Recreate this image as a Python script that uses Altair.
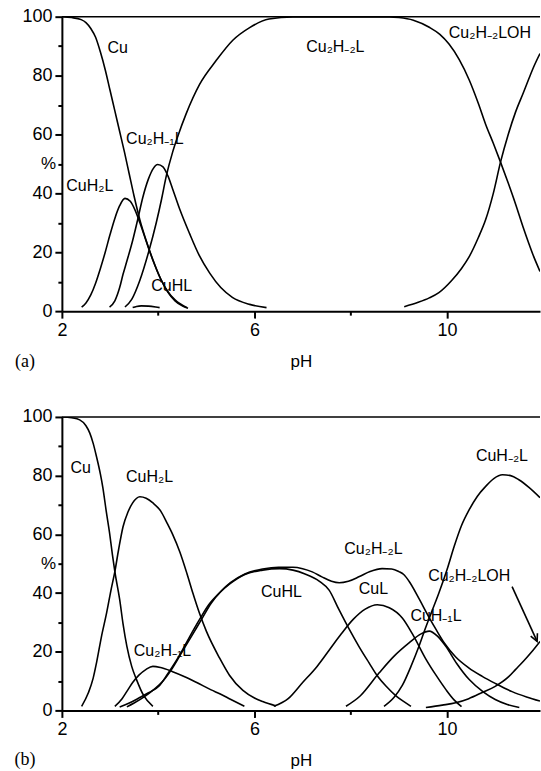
import altair as alt
import pandas as pd

# ---------------- Panel (a) data ----------------
a_cu_ph = [2.0, 2.2, 2.4, 2.5, 2.6, 2.7, 2.8, 2.9, 3.0, 3.1, 3.2, 3.3, 3.4, 3.5, 3.62, 3.75, 3.9, 4.05, 4.2, 4.35, 4.5, 4.62]
a_cu_pct = [100, 99.7, 99, 98, 96, 93, 88, 82, 75, 68, 61, 54, 46.5, 39, 31, 24, 17, 11, 6.5, 3.5, 1.8, 1.0]

a_cuh2l_ph = [2.41, 2.5, 2.6, 2.7, 2.8, 2.9, 3.0, 3.1, 3.2, 3.31, 3.42, 3.52, 3.62, 3.75, 3.89, 4.05, 4.18, 4.35, 4.6]
a_cuh2l_pct = [1.4, 2.8, 5.5, 9.5, 14.5, 20, 26, 31.5, 35.8, 38.3, 37.3, 34.3, 30, 23.8, 17.3, 11, 7.1, 3.8, 1.2]

a_cu2h1l_ph = [2.99, 3.1, 3.2, 3.27, 3.35, 3.47, 3.58, 3.68, 3.8, 3.9, 3.99, 4.1, 4.2, 4.3, 4.45, 4.65, 4.85, 5.07, 5.3, 5.54, 5.9, 6.25]
a_cu2h1l_pct = [1.4, 3.5, 8, 12.5, 17, 24, 31.5, 38.6, 45, 48.5, 49.8, 49, 46, 41.5, 34.5, 26.4, 19, 12.9, 8, 4.7, 2.3, 1.2]

a_cuhl_ph = [3.47, 3.55, 3.65, 3.8, 3.95, 4.03]
a_cuhl_pct = [1.2, 1.6, 1.8, 1.7, 1.4, 1.2]

a_cu2h2l_ph = [3.31, 3.45, 3.62, 3.8, 3.96, 4.07, 4.17, 4.3, 4.41, 4.58, 4.86, 5.2, 5.55, 5.9, 6.3, 6.8, 8.8, 9.0, 9.3, 9.63, 9.85, 10.04, 10.25, 10.46, 10.65, 10.8, 10.96, 11.11, 11.27, 11.42, 11.58, 11.7, 11.8, 11.93]
a_cu2h2l_pct = [1.4, 4, 10.5, 20, 30, 38, 46, 54, 59.5, 67, 77, 85, 92, 96.3, 99.2, 99.9, 99.9, 99.7, 98.8, 96.4, 94, 90.7, 85.5, 78.5, 70.5, 63.5, 57, 50.6, 43.5, 36.5, 28.5, 22.9, 18.5, 13.5]

a_cu2h2loh_ph = [9.11, 9.4, 9.63, 9.83, 10.1, 10.3, 10.46, 10.65, 10.8, 10.96, 11.11, 11.27, 11.42, 11.58, 11.7, 11.8, 11.93]
a_cu2h2loh_pct = [1.5, 3.0, 4.5, 6.3, 10.5, 14.5, 18.5, 25, 31, 40, 50.6, 60, 67.5, 74, 79, 83, 87.5]

a_labels = ["Cu", "Cu\u2082H\u208b\u2081L", "CuH\u2082L", "CuHL", "Cu\u2082H\u208b\u2082L", "Cu\u2082H\u208b\u2082LOH"]
a_label_ph = [3.16, 3.93, 2.58, 4.28, 7.68, 10.89]
a_label_pct = [89.5, 58.3, 42.4, 8.5, 89.8, 94.6]

# ---------------- Panel (b) data ----------------
b_cu_ph = [2.0, 2.2, 2.37, 2.5, 2.58, 2.65, 2.72, 2.8, 2.85, 2.92, 2.99, 3.05, 3.1, 3.2, 3.27, 3.35, 3.45, 3.55, 3.7, 3.89]
b_cu_pct = [100, 99.7, 99, 97, 94.5, 91, 86.4, 80.5, 76, 68, 60.5, 53, 47.3, 37.8, 29.5, 21.8, 15, 10.5, 5, 1.4]

b_cuh2l_ph = [2.41, 2.55, 2.65, 2.72, 2.82, 2.93, 3.02, 3.1, 3.18, 3.27, 3.37, 3.47, 3.62, 3.75, 3.89, 4.05, 4.18, 4.3, 4.45, 4.6, 4.72, 4.86, 5.0, 5.27, 5.48, 5.76, 6.0, 6.17, 6.45]
b_cuh2l_pct = [1.4, 6, 11, 16.3, 25, 33.3, 41, 47.3, 55, 62.6, 67.5, 70.7, 72.8, 72.3, 70.7, 68, 64, 60, 54, 46.5, 40, 33, 27, 18, 12, 6.8, 4.2, 3, 1.5]

b_cu2h1l_ph = [3.1, 3.25, 3.35, 3.47, 3.6, 3.75, 3.89, 4.05, 4.3, 4.55, 4.8, 5.1, 5.3, 5.5, 5.79]
b_cu2h1l_pct = [1.4, 4, 6.5, 9.5, 12, 14, 15, 14.6, 13.2, 11.5, 9.5, 7.0, 5.5, 3.8, 1.4]

b_cuhl_ph = [3.2, 3.4, 3.6, 3.8, 4.03, 4.2, 4.45, 4.65, 4.86, 5.05, 5.27, 5.48, 5.8, 6.17, 6.52, 6.8, 7.05, 7.35, 7.55, 7.75, 7.97, 8.18, 8.38, 8.55, 8.73, 8.95, 9.15, 9.25]
b_cuhl_pct = [1.2, 2.5, 4.2, 6, 8.5, 12.5, 19, 25, 31, 36, 40, 43, 46.3, 47.8, 48.3, 47.8, 46.5, 44, 41, 34.5, 27.6, 21.5, 16.2, 11.8, 8.3, 4.8, 2.5, 1.4]

b_cu2h2l_ph = [3.35, 3.5, 3.7, 3.9, 4.1, 4.3, 4.5, 4.7, 4.9, 5.1, 5.3, 5.5, 5.8, 6.17, 6.5, 6.8, 7.0, 7.2, 7.4, 7.6, 7.76, 7.95, 8.18, 8.4, 8.65, 8.85, 9.0, 9.1, 9.21, 9.42, 9.6, 9.77, 9.95, 10.18, 10.45, 10.73, 11.0, 11.35, 11.65, 11.93]
b_cu2h2l_pct = [1.2, 2.5, 4.5, 7, 10, 14.5, 20, 25.5, 31, 36.5, 40.5, 43.5, 46.5, 48.2, 48.8, 48.8, 48.3, 47.2, 45.5, 44, 43.5, 44, 45.6, 47.3, 48.3, 48.2, 47.3, 46.3, 44, 38, 32.5, 27.6, 22.8, 18.2, 14.5, 11.6, 9.2, 6.4, 4.6, 3.2]

b_cul_ph = [6.4, 6.7, 7.0, 7.3, 7.55, 7.8, 8.05, 8.3, 8.55, 8.8, 9.07, 9.3, 9.56, 9.77, 9.98, 10.15, 10.3]
b_cul_pct = [1.4, 4, 9.5, 15, 20.5, 26, 31, 34.5, 36, 35, 31.5, 25.5, 17.5, 12, 7, 3.5, 1.3]

b_cuh1l_ph = [7.9, 8.2, 8.59, 8.9, 9.21, 9.45, 9.63, 9.8, 9.97, 10.2, 10.46, 10.75, 11.0, 11.25, 11.5]
b_cuh1l_pct = [1.4, 5, 12.8, 18.5, 23, 26, 27, 25.3, 21.9, 16, 10.5, 6.3, 3.7, 2, 1]

b_cuh2ml_ph = [8.69, 8.9, 9.07, 9.25, 9.42, 9.55, 9.69, 9.83, 10.0, 10.15, 10.3, 10.46, 10.63, 10.8, 10.97, 11.15, 11.32, 11.49, 11.7, 11.93]
b_cuh2ml_pct = [1.4, 4.5, 8.5, 15, 22, 28, 34, 40, 48, 56, 63, 68.4, 73, 76.3, 79, 80.3, 80, 78.6, 76, 72.5]

b_cu2h2loh_ph = [9.56, 9.9, 10.18, 10.45, 10.73, 11.0, 11.28, 11.42, 11.6, 11.75, 11.93]
b_cu2h2loh_pct = [1.0, 1.8, 2.6, 4, 6.1, 8.2, 11.5, 13.9, 17, 19.8, 23.5]

b_labels = ["Cu", "CuH\u2082L", "CuH\u208b\u2082L", "Cu\u2082H\u208b\u2082L", "Cu\u2082H\u208b\u2082LOH", "CuHL", "CuL", "CuH\u208b\u2081L", "Cu\u2082H\u208b\u2081L"]
b_label_ph = [2.39, 3.82, 11.14, 8.47, 10.46, 6.56, 8.47, 9.77, 4.09]
b_label_pct = [82.7, 79.6, 86.7, 55.1, 45.9, 40.5, 41.5, 32.3, 20.4]

arrow_ph = [11.35, 11.87]
arrow_pct = [42.2, 23.5]

panel_tags = ["(a)", "(b)"]
tag_ph = [1.233, 1.233]
tag_pct = [-17.3, -17.0]

X_DOMAIN = [2, 11.93]
SANS = "Liberation Sans"


def series_df(series):
    rows = []
    for name, (ph, pct) in series.items():
        for i, (x, y) in enumerate(zip(ph, pct)):
            rows.append({"series": name, "ph": x, "pct": y, "order": i})
    return pd.DataFrame(rows)


def x_enc():
    return alt.X(
        "ph:Q",
        scale=alt.Scale(domain=X_DOMAIN, nice=False, zero=False),
        axis=alt.Axis(
            values=[2, 4, 6, 8, 10],
            labelExpr="datum.value % 4 == 2 ? datum.label : ''",
            tickSize=alt.condition("datum.value % 4 == 2", alt.value(7), alt.value(4)),
            tickWidth=2, tickColor="black",
            domainWidth=2, domainColor="black",
            labelFont=SANS, labelFontSize=18, labelColor="black", labelPadding=3,
            labelFlush=False, grid=False,
            title="pH", titleFont=SANS, titleFontSize=17, titleFontWeight="normal",
            titleColor="black", titleY=50, titleBaseline="middle",
        ),
    )


def y_enc(plot_h):
    return alt.Y(
        "pct:Q",
        scale=alt.Scale(domain=[0, 100], nice=False),
        axis=alt.Axis(
            values=[0, 10, 20, 30, 40, 50, 60, 70, 80, 90, 100],
            labelExpr="datum.value % 20 == 0 ? datum.label : ''",
            tickSize=alt.condition("datum.value % 20 == 0", alt.value(7), alt.value(4)),
            tickWidth=2, tickColor="black",
            domainWidth=2, domainColor="black",
            labelFont=SANS, labelFontSize=18, labelColor="black", labelPadding=3,
            labelFlush=False, grid=False,
            title="%", titleFont=SANS, titleFontSize=17, titleFontWeight="normal",
            titleColor="black", titleAngle=0, titleX=-14, titleY=plot_h / 2,
            titleAlign="center", titleBaseline="middle",
        ),
    )


def panel(series, labels, lph, lpct, tag_i, plot_h, arrow=False):
    xe = x_enc()
    ye = y_enc(plot_h)
    lines = alt.Chart(series_df(series)).mark_line(
        color="black", strokeWidth=1.6, interpolate="monotone", clip=True
    ).encode(x=xe, y=ye, detail="series:N", order="order:Q")
    top = alt.Chart(pd.DataFrame({"pct": [100]})).mark_rule(
        color="black", strokeWidth=1.5
    ).encode(y=ye)
    lab = alt.Chart(pd.DataFrame({"t": labels, "ph": lph, "pct": lpct})).mark_text(
        font=SANS, fontSize=16, color="black", align="center", baseline="middle"
    ).encode(x=xe, y=ye, text="t:N")
    tag = alt.Chart(pd.DataFrame({"t": [panel_tags[tag_i]], "ph": [tag_ph[tag_i]], "pct": [tag_pct[tag_i]]})).mark_text(
        font="Liberation Serif", fontSize=18, color="black", align="center", baseline="middle"
    ).encode(x=xe, y=ye, text="t:N")
    layers = [lines, top, lab, tag]
    if arrow:
        adf = pd.DataFrame({"ph": arrow_ph, "pct": arrow_pct, "order": [0, 1]})
        aline = alt.Chart(adf).mark_line(color="black", strokeWidth=1.6).encode(
            x=xe, y=ye, order="order:Q")
        ahead = alt.Chart(adf.iloc[[1]]).mark_point(
            shape="M -0.5 -1 L 0 0 L 0.5 -1", filled=False, size=220,
            angle=335.6, color="black", strokeWidth=1.6, opacity=1
        ).encode(x=xe, y=ye)
        layers += [aline, ahead]
    return alt.layer(*layers).properties(width=479, height=plot_h)


series_a = {
    "Cu": (a_cu_ph, a_cu_pct),
    "CuH2L": (a_cuh2l_ph, a_cuh2l_pct),
    "Cu2H-1L": (a_cu2h1l_ph, a_cu2h1l_pct),
    "CuHL": (a_cuhl_ph, a_cuhl_pct),
    "Cu2H-2L": (a_cu2h2l_ph, a_cu2h2l_pct),
    "Cu2H-2LOH": (a_cu2h2loh_ph, a_cu2h2loh_pct),
}
series_b = {
    "Cu": (b_cu_ph, b_cu_pct),
    "CuH2L": (b_cuh2l_ph, b_cuh2l_pct),
    "Cu2H-1L": (b_cu2h1l_ph, b_cu2h1l_pct),
    "CuHL": (b_cuhl_ph, b_cuhl_pct),
    "Cu2H-2L": (b_cu2h2l_ph, b_cu2h2l_pct),
    "CuL": (b_cul_ph, b_cul_pct),
    "CuH-1L": (b_cuh1l_ph, b_cuh1l_pct),
    "CuH-2L": (b_cuh2ml_ph, b_cuh2ml_pct),
    "Cu2H-2LOH": (b_cu2h2loh_ph, b_cu2h2loh_pct),
}

pa = panel(series_a, a_labels, a_label_ph, a_label_pct, 0, 295)
pb = panel(series_b, b_labels, b_label_ph, b_label_pct, 1, 294, arrow=True)

chart = alt.vconcat(pa, pb, spacing=36).properties(
    padding={"left": 14, "top": 7, "right": 0, "bottom": 0},
    background="white",
).configure_view(stroke=None)

chart.save("out.html", embed_options={"renderer": "svg", "actions": False})
